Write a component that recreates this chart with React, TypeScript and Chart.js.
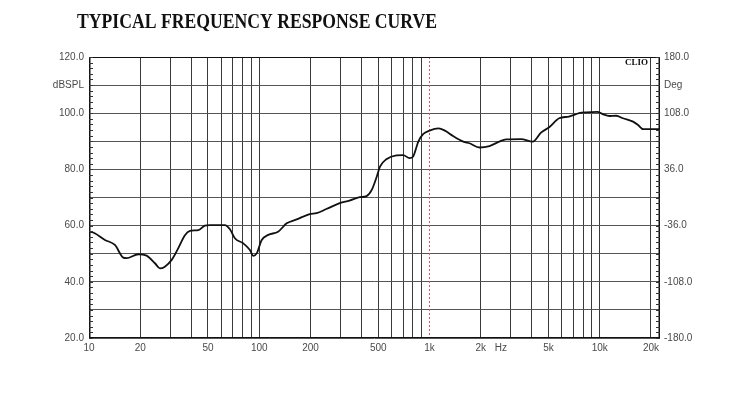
import React, { useEffect, useRef } from "react";
import { Chart, registerables } from "chart.js";

Chart.register(...registerables);

const TITLE = "TYPICAL FREQUENCY RESPONSE CURVE";
const FREQ_HZ = [
  10, 10.8, 12.4, 14.2, 15.9, 16.6, 19.5, 21.8, 24.4, 26.1, 27.9, 30.6, 33.4, 36.6, 39.2, 43.9, 47.9, 51.3,
  56.3, 62.8, 67.3, 71.9, 80.4, 88.2, 92.3, 96.6, 103.4, 113, 129, 145, 166, 198, 217, 248, 297, 339, 389, 427,
  458, 490, 512, 558, 640, 700, 764, 800, 860, 920, 1000, 1130, 1232, 1375, 1580, 1720, 1970, 2250, 2570, 2820,
  3450, 4040, 4520, 5050, 5780, 6600, 7570, 8280, 9680, 10400, 11400, 12500, 13700, 15700, 16800, 18000, 19700, 22600,
];
const SPL_DB = [
  57.9, 57.3, 54.9, 53.1, 48.6, 48.4, 49.8, 49.3, 46.6, 44.8, 45.4, 47.8, 51.9, 56.6, 58.1, 58.4, 60.0, 60.2,
  60.2, 60.2, 58.7, 55.5, 53.7, 51.3, 49.2, 50.1, 54.9, 56.7, 57.8, 60.8, 62.2, 64.1, 64.4, 65.9, 68.0, 68.9, 70.1, 70.5,
  72.7, 77.4, 81.0, 83.6, 85.0, 85.1, 84.0, 84.5, 89.9, 92.6, 93.8, 94.6, 93.8, 91.9, 89.9, 89.3, 87.8, 88.3, 89.9, 90.7,
  90.8, 89.9, 93.1, 95.0, 98.2, 98.8, 100.0, 100.3, 100.5, 99.7, 99.0, 99.1, 98.2, 97.0, 95.8, 94.3, 94.3, 94.3,
];
const X_GRID = [10, 20, 30, 40, 50, 60, 70, 80, 90, 100, 200, 300, 400, 500, 600, 700, 800, 900,
  1000, 2000, 3000, 4000, 5000, 6000, 7000, 8000, 9000, 10000, 20000];
const X_LABELS: Record<number, string> = {
  10: "10", 20: "20", 50: "50", 100: "100", 200: "200", 500: "500",
  1000: "1k", 2000: "2k", 2630: "Hz", 5000: "5k", 10000: "10k", 20000: "20k",
};
const HZ_POS = 2630;
const X_MIN = 10;
const X_MAX = 22600;
const Y_MIN = 20;
const Y_MAX = 120;
const Y_LABEL_UNIT = "dBSPL";
const Y_UNIT_AT = 110;
const DEG_TICKS = [-180, -108, -36, 36, 108, 144, 180];
const DEG_UNIT = "Deg";
const DEG_UNIT_AT = 144;
const MARKER_FREQ = 1000;
const BRAND = "CLIO";

const overlay = {
  id: "overlay",
  beforeDatasetsDraw(chart: any) {
    const { ctx, chartArea: a, scales } = chart;
    const xs = scales.x;
    ctx.save();
    const mx = Math.round(xs.getPixelForValue(MARKER_FREQ)) + 0.5;
    ctx.strokeStyle = "#d65a5a";
    ctx.lineWidth = 1;
    ctx.setLineDash([2, 2]);
    ctx.beginPath();
    ctx.moveTo(mx, a.top);
    ctx.lineTo(mx, a.bottom);
    ctx.stroke();
    ctx.restore();
  },
  afterDraw(chart: any) {
    const { ctx, chartArea: a, scales } = chart;
    const ys = scales.y;
    ctx.save();
    ctx.strokeStyle = "#111";
    ctx.lineWidth = 1;
    ctx.strokeRect(a.left + 0.5, a.top + 0.5, a.right - a.left - 1, a.bottom - a.top - 1);
    ctx.lineWidth = 1.5;
    ctx.beginPath();
    ctx.moveTo(a.left + 0.75, a.top);
    ctx.lineTo(a.left + 0.75, a.bottom);
    ctx.moveTo(a.right - 0.75, a.top);
    ctx.lineTo(a.right - 0.75, a.bottom);
    ctx.stroke();
    ctx.lineWidth = 1;
    ctx.strokeStyle = "#333";
    ctx.beginPath();
    for (let v = Y_MIN; v <= Y_MAX; v += 2) {
      const y = Math.round(ys.getPixelForValue(v)) + 0.5;
      ctx.moveTo(a.left, y);
      ctx.lineTo(a.left + 4, y);
      ctx.moveTo(a.right - 4, y);
      ctx.lineTo(a.right, y);
    }
    ctx.stroke();
    ctx.fillStyle = "#111";
    ctx.font = "bold 9px 'Liberation Serif', serif";
    ctx.textAlign = "right";
    ctx.textBaseline = "middle";
    ctx.fillText(BRAND, a.right - 12, a.top + 6);
    ctx.font = "bold 20px 'Liberation Serif', serif";
    ctx.textAlign = "left";
    ctx.textBaseline = "alphabetic";
    const w = ctx.measureText(TITLE).width;
    const target = 360;
    ctx.translate(77, 28);
    ctx.scale(target / w, 1);
    ctx.fillText(TITLE, 0, 0);
    ctx.restore();
  },
};

export default function App() {
  const ref = useRef<HTMLCanvasElement | null>(null);
  useEffect(() => {
    document.body.style.margin = "0";
    const canvas = ref.current!;
    const data = FREQ_HZ.map((f, i) => ({ x: f, y: SPL_DB[i] }));
    const tickFont = { family: "'Liberation Sans', Arial, sans-serif", size: 10 };
    const chart = new Chart(canvas, {
      type: "line",
      data: {
        datasets: [
          {
            data,
            borderColor: "#111",
            borderWidth: 1.8,
            pointRadius: 0,
            cubicInterpolationMode: "monotone",
            fill: false,
            yAxisID: "y",
          },
        ],
      },
      options: {
        responsive: false,
        animation: false,
        layout: { padding: { top: 57, left: 0, right: 0, bottom: 0 } },
        plugins: { legend: { display: false }, tooltip: { enabled: false }, title: { display: false } },
        scales: {
          x: {
            type: "logarithmic",
            min: X_MIN,
            max: X_MAX,
            afterBuildTicks: (s: any) => {
              s.ticks = [...X_GRID, HZ_POS].sort((p, q) => p - q).map((v) => ({ value: v }));
            },
            afterFit: (s: any) => {
              s.height = 55;
            },
            border: { display: false },
            grid: {
              drawTicks: false,
              color: (c: any) =>
                c.tick && (c.tick.value === HZ_POS || c.tick.value === MARKER_FREQ) ? "transparent" : "#3a3a3a",
              lineWidth: 1,
            },
            ticks: {
              autoSkip: false,
              maxRotation: 0,
              padding: 4,
              color: "#4a4a4a",
              font: tickFont,
              callback: (v: any) => X_LABELS[v as number] ?? "",
            },
          },
          y: {
            type: "linear",
            position: "left",
            min: Y_MIN,
            max: Y_MAX,
            afterBuildTicks: (s: any) => {
              const t = [];
              for (let v = Y_MIN; v <= Y_MAX; v += 2) t.push({ value: v });
              s.ticks = t;
            },
            afterFit: (s: any) => {
              s.width = 89;
            },
            border: { display: false },
            grid: {
              drawTicks: false,
              color: (c: any) => (c.tick && c.tick.value % 10 === 0 ? "#555" : "transparent"),
              lineWidth: 1,
            },
            ticks: {
              autoSkip: false,
              padding: 5,
              color: "#4a4a4a",
              font: tickFont,
              callback: (v: any) =>
                v === Y_UNIT_AT ? Y_LABEL_UNIT : (v as number) % 20 === 0 ? (v as number).toFixed(1) : "",
            },
          },
          y2: {
            type: "linear",
            position: "right",
            min: -180,
            max: 180,
            afterBuildTicks: (s: any) => {
              s.ticks = DEG_TICKS.map((v) => ({ value: v }));
            },
            afterFit: (s: any) => {
              s.width = 80;
            },
            border: { display: false },
            grid: { display: false, drawTicks: false },
            ticks: {
              autoSkip: false,
              padding: 4,
              color: "#4a4a4a",
              font: tickFont,
              callback: (v: any) => (v === DEG_UNIT_AT ? DEG_UNIT : (v as number).toFixed(1)),
            },
          },
        },
      } as any,
      plugins: [overlay],
    });
    return () => chart.destroy();
  }, []);
  return (
    <canvas
      ref={ref}
      width={740}
      height={393}
      style={{ position: "absolute", left: 0, top: 0, width: 740, height: 393, background: "#fff" }}
    />
  );
}
